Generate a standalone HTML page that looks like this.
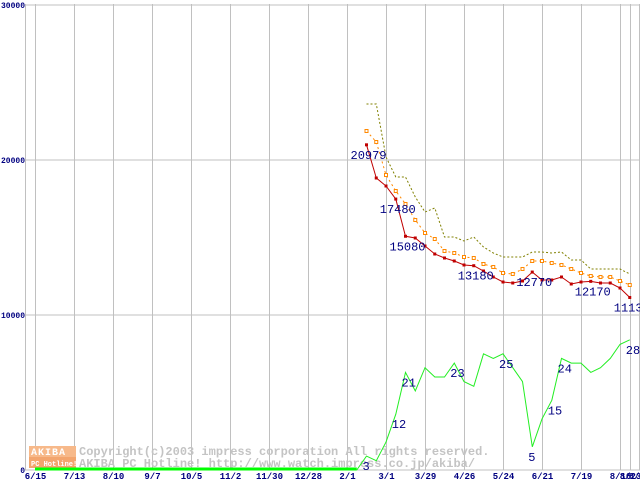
<!DOCTYPE html>
<html><head><meta charset="utf-8"><style>
html,body{margin:0;padding:0;background:#fff;}
svg{display:block;}
text{font-family:"Liberation Mono","DejaVu Sans Mono",monospace;}
</style></head><body>
<svg id="chart" width="640" height="480" viewBox="0 0 640 480" xmlns="http://www.w3.org/2000/svg">
<rect x="0" y="0" width="640" height="480" fill="#fff"/>
<g id="grid"></g>
<g id="watermark">
  <rect x="29" y="446" width="47" height="11" fill="#f7b98a"/>
  <rect x="29" y="457" width="47" height="11" fill="#f3a56e"/>
  <text x="31" y="455" font-size="10" fill="#fff" font-weight="bold" letter-spacing="1">AKIBA</text>
  <text x="31" y="466" font-size="7" fill="#fff" font-weight="bold">PC Hotline!</text>
  <text x="79" y="455" font-size="12" fill="#c4c4c4" font-weight="bold">Copyright(c)2003 impress corporation All rights reserved.</text>
  <text x="79" y="467" font-size="12" fill="#c4c4c4" font-weight="bold">AKIBA PC Hotline!  http://www.watch.impress.co.jp/akiba/</text>
</g>
<g id="series"></g>
<g id="labels"></g>
</svg>
<script>
const weekStart = 34;
const minPrice = [20979,18839,18323,17480,15080,14968,14452,13935,13677,13484,13226,13180,12839,12452,12129,12065,12194,12770,12258,12258,12452,12000,12129,12170,12065,12065,11742,11130];
const avgPrice = [21871,21161,19032,18000,17161,16129,15290,14903,14129,14000,13742,13677,13290,13097,12710,12645,12968,13484,13484,13355,13226,12968,12710,12516,12452,12452,12194,11935];
const maxPrice = [23613,23613,20194,18903,18903,17613,16645,16903,15032,15032,14774,15032,14387,14000,13742,13742,13742,14065,14065,14000,14065,13548,13548,12968,12968,12968,12968,12645];
const shopCount = [3,2,6,12,21,17,22,20,20,23,19,18,25,24,25,22,19,5,11,15,24,23,23,21,22,24,27,28];
const priceLabelIdx = [0,3,4,11,17,23,27];
const countLabelIdx = [0,3,4,9,14,17,19,20,27];
const yTicks = [0,10000,20000,30000];
const xTickLabels = ["6/15","7/13","8/10","9/7","10/5","11/2","11/30","12/28","2/1","3/1","3/29","4/26","5/24","6/21","7/19","8/16"];
const extraTickLabels = ["8/23","8/30"];

const NS = "http://www.w3.org/2000/svg";
const xW = w => 35 + w * 9.75;
const yP = v => 470 - v * 0.0155;
const yC = c => 470 - c * 4.65;
function mk(tag, attrs, parent){const e=document.createElementNS(NS,tag);for(const k in attrs)e.setAttribute(k,attrs[k]);parent.appendChild(e);return e;}
const grid=document.getElementById('grid'), ser=document.getElementById('series'), lab=document.getElementById('labels');

yTicks.forEach(v=>{
  const l=mk('line',{x1:25,x2:640,y1:yP(v),y2:yP(v),stroke:'#c0c0c0','stroke-width':1},grid);
  
  
  const t=mk('text',{x:25,y:yP(v)+3,'font-size':8,fill:'#000080','text-anchor':'end','font-weight':'bold'},lab);
  t.textContent=String(v);
  
  
});
const ax=mk('line',{x1:25.5,x2:25.5,y1:4,y2:470,stroke:'#c0c0c0'},grid);


xTickLabels.forEach((s,i)=>{
  const x=Math.round(xW(i*4))+0.5;
  const l=mk('line',{x1:x,x2:x,y1:4,y2:470,stroke:'#c0c0c0'},grid);
  
  
  const t=mk('text',{x:x,y:479,'font-size':9,fill:'#000080','text-anchor':'middle','font-weight':'bold'},lab);
  t.textContent=s;
  
  
});
extraTickLabels.forEach((s,i)=>{
  const x=Math.round(xW(61+i))+0.5 - i;
  const l=mk('line',{x1:x,x2:x,y1:4,y2:470,stroke:'#c0c0c0'},grid);
  
  
  const t=mk('text',{x:x,y:479,'font-size':9,fill:'#000080','text-anchor':'middle','font-weight':'bold'},lab);
  t.textContent=s;
  
  
});

function pts(arr,fy){return arr.map((v,i)=>xW(weekStart+i).toFixed(1)+','+fy(v).toFixed(1)).join(' ');}
const zb=mk('line',{x1:35,x2:xW(weekStart-1),y1:469,y2:469,stroke:'#00ff00','stroke-width':3},ser);


const gl=mk('polyline',{points:xW(weekStart-1)+','+yC(0)+' '+pts(shopCount,yC),fill:'none',stroke:'#22ee22','stroke-width':1},ser);


const ml=mk('polyline',{points:pts(maxPrice,yP),fill:'none',stroke:'#808000','stroke-width':1,'stroke-dasharray':'2,2'},ser);


const al=mk('polyline',{points:pts(avgPrice,yP),fill:'none',stroke:'#ff8800','stroke-width':1,'stroke-dasharray':'2,3'},ser);


const rl=mk('polyline',{points:pts(minPrice,yP),fill:'none',stroke:'#c00000','stroke-width':1},ser);


avgPrice.forEach((v,i)=>{
  const r=mk('rect',{x:xW(weekStart+i)-1.5,y:yP(v)-1.5,width:3,height:3,fill:'#fff',stroke:'#ff8800','stroke-width':1},ser);
  
  
});
minPrice.forEach((v,i)=>{
  const r=mk('rect',{x:xW(weekStart+i)-1.5,y:yP(v)-1.5,width:3,height:3,fill:'#c00000'},ser);
  
  
});
priceLabelIdx.forEach(i=>{
  const t=mk('text',{x:xW(weekStart+i)-16,y:yP(minPrice[i])+14,'font-size':12,fill:'#000080','font-family':'Liberation Sans, sans-serif'},lab);
  t.textContent=String(minPrice[i]);
  
  
});
countLabelIdx.forEach(i=>{
  const t=mk('text',{x:xW(weekStart+i)-4,y:yC(shopCount[i])+14,'font-size':12,fill:'#000080','font-family':'Liberation Sans, sans-serif'},lab);
  t.textContent=String(shopCount[i]);
  
  
});
</script>
</body></html>
